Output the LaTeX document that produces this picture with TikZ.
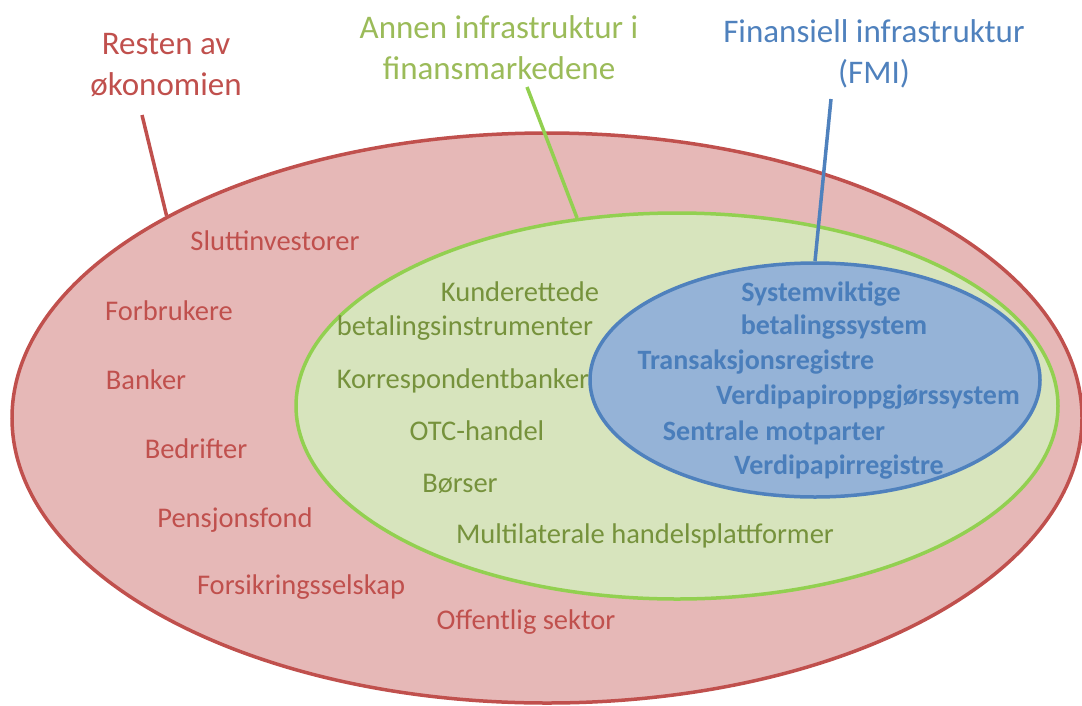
\documentclass[tikz,border=0pt]{standalone}
\usepackage{fontspec}
\setmainfont{Carlito}
\usetikzlibrary{shapes.geometric}
\definecolor{redline}{HTML}{C0504D}
\definecolor{redfill}{HTML}{E6B8B7}
\definecolor{greenline}{HTML}{92D050}
\definecolor{greenfill}{HTML}{D7E4BD}
\definecolor{greentitle}{HTML}{9BBB59}
\definecolor{greentext}{HTML}{76923C}
\definecolor{blueline}{HTML}{4F81BD}
\definecolor{bluefill}{HTML}{95B3D7}
\definecolor{bluetext}{HTML}{4A7EBB}
\tikzset{
  ring/.style={ellipse, inner sep=0pt, line width=3.5pt},
  title/.style={align=center, font=\fontsize{33}{41}\selectfont},
  item/.style={font=\fontsize{28.5}{32}\selectfont, text height=0.7em, text depth=0.2em, inner sep=0pt},
  reditem/.style={item, text=redline},
  greenitem/.style={item, text=greentext},
  blueitem/.style={item, text=bluetext, font=\fontsize{28}{32}\selectfont\bfseries},
  leader/.style={line width=3.5pt}
}
\begin{document}
\begin{tikzpicture}[x=1pt,y=-1pt]
\useasboundingbox (0,0) rectangle (1082,705);
% ellipses
\node[ring, draw=redline, fill=redfill, minimum width=1070pt, minimum height=570pt] (outer) at (547,418) {};
\node[ring, draw=greenline, fill=greenfill, minimum width=762pt, minimum height=386pt] (mid) at (677,406) {};
\node[ring, draw=blueline, fill=bluefill, minimum width=450pt, minimum height=234pt] (inner) at (815,380) {};
% titles
\node[title, text=redline] (tred) at (166,65) {Resten av\\økonomien};
\node[title, text=greentitle] (tgreen) at (499,48) {Annen infrastruktur i\\finansmarkedene};
\node[title, text=blueline] (tblue) at (874,54) {Finansiell infrastruktur\\(FMI)};
% leader lines
\coordinate (lred) at (142,115);
\coordinate (lgreen) at (527,87);
\coordinate (lblue) at (831,99);
\draw[leader, redline] (lred) -- (outer.152.5);
\draw[leader, greenline] (lgreen) -- (mid.118.9);
\draw[leader, blueline] (lblue) -- (inner.90);
% red items
\node[reditem] (r1) at (275,248) {Sluttinvestorer};
\node[reditem] (r2) at (169,318) {Forbrukere};
\node[reditem] (r3) at (146,387) {Banker};
\node[reditem] (r4) at (196,456) {Bedrifter};
\node[reditem] (r5) at (235,525) {Pensjonsfond};
\node[reditem] (r6) at (301,592) {Forsikringsselskap};
\node[reditem] (r7) at (526,627) {Offentlig sektor};
% green items
\node[greenitem] (g1) at (520,299) {Kunderettede};
\node[greenitem] (g2) at (465,333) {betalingsinstrumenter};
\node[greenitem] (g3) at (463,386) {Korrespondentbanker};
\node[greenitem] (g4) at (477,438) {OTC-handel};
\node[greenitem] (g5) at (460,490) {Børser};
\node[greenitem] (g6) at (645,541) {Multilaterale handelsplattformer};
% blue items
\node[blueitem] (b1) at (821,299) {Systemviktige};
\node[blueitem] (b2) at (834,332) {betalingssystem};
\node[blueitem] (b3) at (756,367) {Transaksjonsregistre};
\node[blueitem] (b4) at (868,402) {Verdipapiroppgjørssystem};
\node[blueitem] (b5) at (774,438) {Sentrale motparter};
\node[blueitem] (b6) at (839,472) {Verdipapirregistre};
\end{tikzpicture}
\end{document}
